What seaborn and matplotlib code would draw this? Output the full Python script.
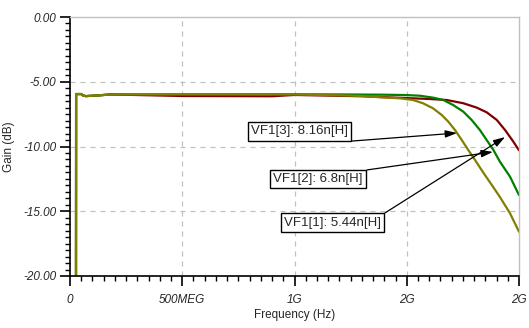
import matplotlib
matplotlib.use("Agg")
import matplotlib.pyplot as plt
from matplotlib.ticker import MultipleLocator, FixedLocator
import numpy as np
import pandas as pd
import seaborn as sns

# Frequency sweep points (GHz) and gain (dB) for each inductance value
freq_544 = [0.0267, 0.0272, 0.050, 0.057, 0.070, 0.130, 0.180, 0.50, 1.00, 1.20,
            1.30, 1.381, 1.470, 1.528, 1.572, 1.617, 1.656, 1.685, 1.715, 1.745,
            1.774, 1.804, 1.841, 1.878, 1.915, 1.960, 2.000]
gain_544 = [-20.0, -5.95, -5.95, -6.05, -6.11, -6.05, -5.98, -5.97, -5.98, -6.05,
            -6.10, -6.20, -6.28, -6.41, -6.66, -7.05, -7.57, -8.08, -8.73, -9.50,
            -10.27, -11.04, -12.02, -12.95, -13.90, -15.16, -16.58]

freq_68 = [0.0267, 0.0272, 0.050, 0.057, 0.070, 0.130, 0.180, 0.50, 1.00, 1.20,
           1.40, 1.50, 1.559, 1.618, 1.663, 1.707, 1.752, 1.789, 1.826, 1.856,
           1.886, 1.915, 1.960, 2.000]
gain_68 = [-20.0, -5.95, -5.95, -6.05, -6.11, -6.05, -5.98, -5.98, -5.97, -5.98,
           -6.00, -6.03, -6.08, -6.23, -6.41, -6.80, -7.31, -7.95, -8.73, -9.50,
           -10.27, -11.17, -12.33, -13.75]

freq_816 = [0.0267, 0.0272, 0.050, 0.057, 0.070, 0.130, 0.180, 0.50, 0.90, 1.00,
            1.30, 1.470, 1.60, 1.678, 1.752, 1.812, 1.856, 1.901, 1.938, 1.975,
            2.000]
gain_816 = [-20.0, -5.95, -5.95, -6.05, -6.11, -6.05, -5.98, -6.10, -6.12, -6.02,
            -6.12, -6.24, -6.33, -6.41, -6.66, -7.00, -7.36, -7.95, -8.73, -9.63,
            -10.30]

series_names = ["8.16n", "6.8n", "5.44n"]
series_colors = ["#800000", "#008000", "#808000"]

x_ticks = [0.0, 0.5, 1.0, 1.5, 2.0]
x_labels = ["0", "500MEG", "1G", "2G", "2G"]
y_ticks = [0, -5, -10, -15, -20]
y_labels = ["0.00", "-5.00", "-10.00", "-15.00", "-20.00"]

# Annotation labels, arrow tips (GHz, dB) and text anchors
ann_labels = ["VF1[3]: 8.16n[H]", "VF1[2]: 6.8n[H]", "VF1[1]: 5.44n[H]"]
ann_text_pos = [(1.022, -8.84), (1.105, -12.51), (1.169, -15.87)]
ann_start = [(1.256, -9.58), (1.323, -11.81), (1.403, -15.13)]
ann_tip = [(1.724, -8.96), (1.884, -10.42), (1.938, -9.27)]

frames = []
for name, f, g in zip(series_names,
                      [freq_816, freq_68, freq_544],
                      [gain_816, gain_68, gain_544]):
    frames.append(pd.DataFrame({"freq": f, "gain": g, "L": name}))
df = pd.concat(frames, ignore_index=True)

sns.set_style("white")
plt.rcParams["font.family"] = ["Liberation Sans", "DejaVu Sans"]

fig = plt.figure(figsize=(5.29, 3.28), dpi=100)
ax = fig.add_axes([70 / 529, 1 - 276 / 328, 449 / 529, 259 / 328])

sns.lineplot(data=df, x="freq", y="gain", hue="L", hue_order=series_names,
             palette=series_colors, estimator=None, sort=False,
             linewidth=1.6, legend=False, ax=ax)

ax.set_xlim(0, 2.0)
ax.set_ylim(-20, 0)

# grid lines at the major ticks
for xv in x_ticks[1:-1]:
    ax.axvline(xv, color="#c0c0c0", linestyle=(0, (4, 4)), linewidth=0.9, zorder=0)
for yv in y_ticks[1:-1]:
    ax.axhline(yv, color="#c0c0c0", linestyle=(0, (4, 4)), linewidth=0.9, zorder=0)

for side in ["top", "right"]:
    ax.spines[side].set_color("#c0c0c0")
    ax.spines[side].set_linewidth(1.0)
for side in ["left", "bottom"]:
    ax.spines[side].set_color("black")
    ax.spines[side].set_linewidth(1.2)

ax.xaxis.set_major_locator(FixedLocator(x_ticks))
ax.set_xticklabels(x_labels, fontstyle="italic", fontsize=8.5)
ax.xaxis.set_minor_locator(MultipleLocator(0.05))
ax.yaxis.set_major_locator(FixedLocator(y_ticks))
ax.set_yticklabels(y_labels, fontstyle="italic", fontsize=8.5)
ax.yaxis.set_minor_locator(MultipleLocator(0.5))

ax.tick_params(which="major", direction="out", length=7, width=1.2,
               color="black", bottom=True, left=True, pad=3)
ax.tick_params(which="minor", direction="out", length=3.5, width=1.0,
               color="black", bottom=True, left=True)
ax.tick_params(axis="x", pad=6)

ax.set_xlabel("Frequency (Hz)", fontsize=8.5, labelpad=2)
ax.set_ylabel("Gain (dB)", fontsize=8.5, labelpad=6)

for label, tpos, spos, tip in zip(ann_labels, ann_text_pos, ann_start, ann_tip):
    ax.text(tpos[0], tpos[1], label, ha="center", va="center", fontsize=9.5,
            bbox=dict(boxstyle="square,pad=0.25", facecolor="white",
                      edgecolor="black", linewidth=1.0), zorder=5)
    ax.annotate("", xy=tip, xytext=spos,
                arrowprops=dict(arrowstyle="-|>,head_length=0.7,head_width=0.22",
                                color="black", linewidth=0.9,
                                shrinkA=0, shrinkB=0), zorder=6)

fig.savefig("out.png", dpi=100, facecolor="white")
